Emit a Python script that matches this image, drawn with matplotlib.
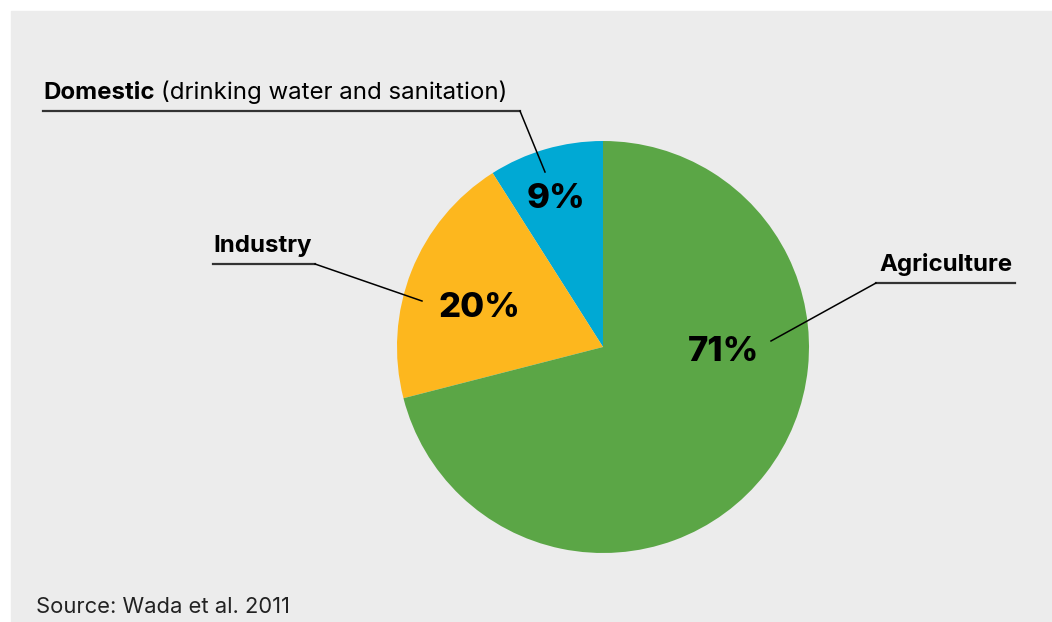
import matplotlib.pyplot as plt
from matplotlib.patches import Rectangle

# water withdrawal shares
sectors = ["Domestic", "Industry", "Agriculture"]
shares = [9, 20, 71]
pct_labels = ["9%", "20%", "71%"]
colors = ["#00a9d4", "#fdb71e", "#5ba646"]

W, H = 1052, 622
plt.rcParams["font.family"] = ["Inter", "DejaVu Sans"]

fig = plt.figure(figsize=(W / 100, H / 100), dpi=100, facecolor="white")
ax = fig.add_axes([0, 0, 1, 1])


def py(y):
    # pixel row (from top) -> data y
    return H - y


ax.add_patch(Rectangle((11, 0), W - 11, H - 11, color="#ececec", zorder=0))

ax.pie(shares, colors=colors, startangle=90, counterclock=True,
       center=(603, py(347)), radius=206, frame=True,
       wedgeprops=dict(linewidth=0))

# percentage labels inside slices
pct_pos = [(556, 199), (479, 308), (724, 352)]
for lab, (x, y) in zip(pct_labels, pct_pos):
    ax.text(x, py(y), lab, fontsize=25, fontweight="heavy", ha="center",
            va="center", color="black", zorder=5)

line_c = "#333333"

# Domestic label
t = ax.text(43, py(99), "Domestic", fontsize=17.3, fontweight="bold",
            ha="left", va="baseline")
fig.canvas.draw()
bb = t.get_window_extent().transformed(ax.transData.inverted())
ax.text(bb.x1 - 3, py(99), "(drinking water and sanitation)", fontsize=17.3,
        ha="left", va="baseline")
ax.plot([43, 520], [py(111), py(111)], color=line_c, lw=1.6)
ax.plot([520, 545], [py(111), py(172)], color="black", lw=1.1)

# Industry label
ax.text(213, py(252), "Industry", fontsize=17.3, fontweight="bold",
        ha="left", va="baseline")
ax.plot([213, 315], [py(264), py(264)], color=line_c, lw=1.6)
ax.plot([315, 422], [py(264), py(301)], color="black", lw=1.1)

# Agriculture label
ax.text(1013, py(271), "Agriculture", fontsize=17.3, fontweight="bold",
        ha="right", va="baseline")
ax.plot([876, 1015], [py(283), py(283)], color=line_c, lw=1.6)
ax.plot([876, 771], [py(283), py(341)], color="black", lw=1.1)

ax.text(36, py(613), "Source: Wada et al. 2011", fontsize=15.8,
        ha="left", va="baseline", color="#222222")

ax.set_xlim(0, W)
ax.set_ylim(0, H)
ax.set_aspect("auto")
ax.axis("off")

fig.savefig("out.png", dpi=100, facecolor="white")
